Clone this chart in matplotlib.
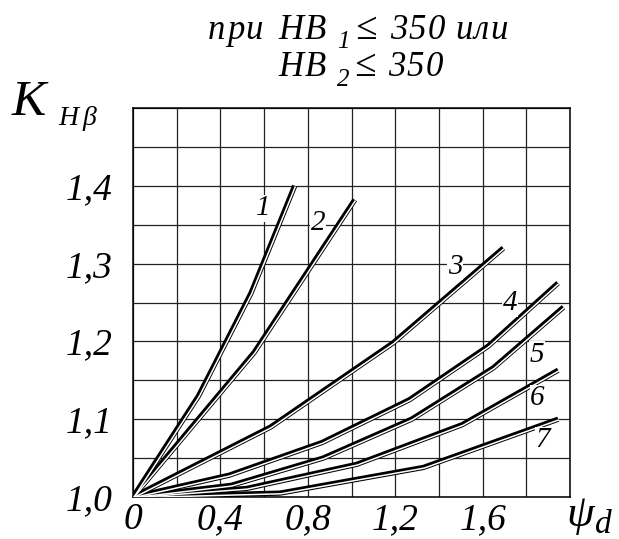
import numpy as np
import matplotlib
matplotlib.use("Agg")
import matplotlib.pyplot as plt
import matplotlib.transforms as mtransforms

# curve data: psi_d -> K_Hbeta
curve_1_x = [0.0, 0.30, 0.54, 0.74]
curve_1_y = [1.0, 1.130, 1.262, 1.400]
curve_2_x = [0.0, 0.555, 1.015]
curve_2_y = [1.0, 1.186, 1.382]
curve_3_x = [0.0, 0.63, 1.19, 1.695]
curve_3_y = [1.0, 1.090, 1.198, 1.320]
curve_4_x = [0.0, 0.44, 0.865, 1.265, 1.626, 1.945]
curve_4_y = [1.0, 1.028, 1.070, 1.125, 1.194, 1.275]
curve_5_x = [0.0, 0.45, 0.87, 1.275, 1.649, 1.97]
curve_5_y = [1.0, 1.015, 1.050, 1.100, 1.166, 1.244]
curve_6_x = [0.0, 0.52, 1.024, 1.507, 1.946]
curve_6_y = [1.0, 1.011, 1.042, 1.093, 1.163]
curve_7_x = [0.0, 0.673, 1.329, 1.946]
curve_7_y = [1.0, 1.005, 1.038, 1.100]

curve_names = ["1", "2", "3", "4", "5", "6", "7"]
# where the curve numbers sit (data coords)
name_pos = [(0.595, 1.371), (0.848, 1.352), (1.474, 1.296), (1.726, 1.249),
            (1.848, 1.183), (1.851, 1.127), (1.875, 1.073)]

x_tick_vals = [0.0, 0.4, 0.8, 1.2, 1.6]
x_tick_labels = ["0", "0,4", "0,8", "1,2", "1,6"]
y_tick_vals = [1.0, 1.1, 1.2, 1.3, 1.4]
y_tick_labels = ["1,0", "1,1", "1,2", "1,3", "1,4"]

W, H = 619, 539
font = dict(family="Liberation Serif", style="italic", color="black")

fig = plt.figure(figsize=(W / 100, H / 100), dpi=100)
ax = fig.add_axes([133 / W, 1 - 497 / H, (570 - 133) / W, (497 - 108) / H])
ax.set_xlim(0, 2.0)
ax.set_ylim(1.0, 1.5)

ax.set_xticks(x_tick_vals, x_tick_labels)
ax.set_yticks(y_tick_vals, y_tick_labels)
ax.set_xticks(np.arange(0, 2.01, 0.2), minor=True)
ax.set_yticks(np.arange(1.0, 1.501, 0.05), minor=True)
ax.tick_params(which="both", length=0)
ax.tick_params(axis="x", pad=4)
ax.tick_params(axis="y", pad=15)
for lab in ax.get_xticklabels() + ax.get_yticklabels():
    lab.set_fontfamily("Liberation Serif")
    lab.set_fontstyle("italic")
    lab.set_fontsize(27)
for lab in ax.get_yticklabels():
    lab.set_va("center_baseline")
ax.grid(which="both", color="#222222", lw=0.9)
ax.set_axisbelow(True)
for sp in ax.spines.values():
    sp.set_linewidth(1.1)

# double-stroke curves: thick black with a thin white channel shifted down-right
shift = mtransforms.offset_copy(ax.transData, fig=fig, x=0.5, y=-0.5, units="points")
curves = [(curve_1_x, curve_1_y), (curve_2_x, curve_2_y), (curve_3_x, curve_3_y),
          (curve_4_x, curve_4_y), (curve_5_x, curve_5_y), (curve_6_x, curve_6_y),
          (curve_7_x, curve_7_y)]
for cx, cy in curves:
    ax.plot(cx, cy, color="black", lw=3.8, solid_capstyle="butt", zorder=3)
    ax.plot(cx, cy, color="white", lw=1.1, solid_capstyle="butt", zorder=4,
            transform=shift)

for name, (tx, ty) in zip(curve_names, name_pos):
    ax.text(tx, ty, name, fontsize=21, ha="center", va="center", zorder=5,
            bbox=dict(facecolor="white", edgecolor="none", pad=0.5), **font)

renderer = fig.canvas.get_renderer()


def spaced(x, y, s, size, track=0.0):
    """draw s letter by letter from pixel (x, baseline y), adding track px between letters"""
    for ch in s:
        t = fig.text(x / W, 1 - y / H, ch, fontsize=size,
                     ha="left", va="baseline", **font)
        x += t.get_window_extent(renderer).width + track
    return x


# heading, wide-set like the original
spaced(208, 39, "при", 25, 1.5)
spaced(278, 39, "HB", 25, 1.5)
spaced(337, 48, "1", 18)
spaced(355, 39, "≤", 28)
spaced(390, 39, "350", 25, 1.5)
spaced(455, 39, "или", 25, 1.5)

spaced(278, 76, "HB", 25, 1.5)
spaced(337, 86, "2", 18)
spaced(354, 76, "≤", 28)
spaced(388, 76, "350", 25, 1.5)

# axis names
spaced(12, 115, "K", 37)
spaced(58, 125, "H", 20, 2)
spaced(82, 125, "β", 20)
x_end = spaced(566, 526, "ψ", 32)
spaced(x_end + 1, 533, "d", 24)

fig.savefig("out.png", dpi=100)
